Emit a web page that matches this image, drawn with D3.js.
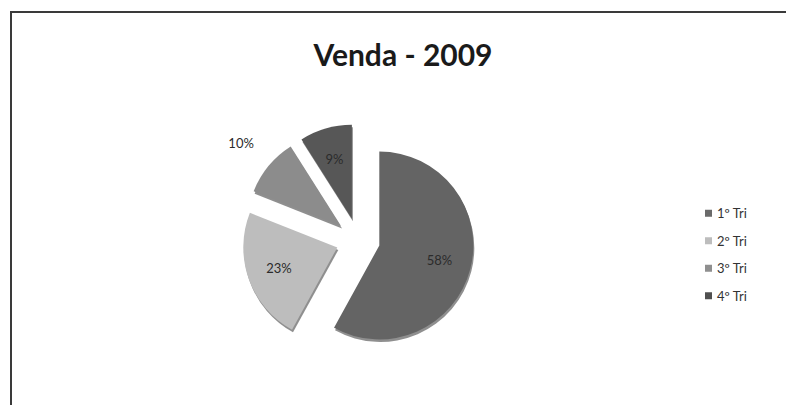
<!DOCTYPE html>
<html>
<head>
<meta charset="utf-8">
<script src="https://cdn.jsdelivr.net/npm/d3@7"></script>
<style>
  body { margin: 0; background: #fff; }
  text { font-family: Lato, "Open Sans", sans-serif; }
</style>
</head>
<body>
<div id="chart-area"></div>
<script>
/*
*    venda 2009 - exploded pie
*/

var categories = ["1º Tri", "2º Tri", "3º Tri", "4º Tri"];
var values = [58, 23, 10, 9];
var colors = ["#646464", "#bdbdbd", "#8c8c8c", "#575757"];
var legendColors = ["#6a6a6a", "#bdbdbd", "#8f8f8f", "#505050"];
var outsideLabels = ["3º Tri"];

var width = 786;
var height = 405;

var svg = d3.select("#chart-area").append("svg")
    .attr("width", width)
    .attr("height", height);

// frame (runs off right and bottom)
svg.append("rect")
    .attr("x", 11)
    .attr("y", 12)
    .attr("width", 800)
    .attr("height", 420)
    .attr("fill", "none")
    .attr("stroke", "#3a3a3a")
    .attr("stroke-width", 2);

svg.append("text")
    .attr("x", 403)
    .attr("y", 66)
    .attr("text-anchor", "middle")
    .style("font-size", "30px")
    .style("font-weight", "bold")
    .style("fill", "#1a1a1a")
    .text("Venda - 2009");

var radius = 94;
var explode = 22;

var g = svg.append("g")
    .attr("transform", "translate(358, 240)");

var pie = d3.pie().sort(null).value((d) => d.value);
var arc = d3.arc().innerRadius(0).outerRadius(radius);
var labelArc = d3.arc().innerRadius(radius * 0.66).outerRadius(radius * 0.66);
var outerArc = d3.arc().innerRadius(radius * 1.38).outerRadius(radius * 1.38);

var data = categories.map((c, i) => ({ cat: c, value: values[i], color: colors[i] }));
var arcs = pie(data);

function shift(d) {
    var a = (d.startAngle + d.endAngle) / 2;
    return [Math.sin(a) * explode, -Math.cos(a) * explode];
}

var slices = g.selectAll(".slice").data(arcs).enter().append("g")
    .attr("class", "slice")
    .attr("transform", (d) => "translate(" + shift(d) + ")");

// soft 3d edge under each slice
slices.append("path")
    .attr("d", arc)
    .attr("transform", "translate(1, 2.5)")
    .attr("fill", "#333")
    .attr("opacity", 0.55);

slices.append("path")
    .attr("d", arc)
    .attr("fill", (d) => d.data.color);

slices.append("text")
    .attr("transform", (d) => {
        var p = outsideLabels.indexOf(d.data.cat) >= 0 ? outerArc.centroid(d) : labelArc.centroid(d);
        return "translate(" + p + ")";
    })
    .attr("dy", "0.35em")
    .attr("text-anchor", "middle")
    .style("font-size", "13px")
    .style("fill", "#2b2b2b")
    .text((d) => d.data.value + "%");

// legend
var y = d3.scaleBand().domain(categories).range([200, 310]);

var legend = svg.selectAll(".legend").data(categories).enter().append("g")
    .attr("class", "legend")
    .attr("transform", (d) => "translate(705, " + (y(d) + y.bandwidth() / 2) + ")");

legend.append("rect")
    .attr("x", 0)
    .attr("y", -4)
    .attr("width", 7)
    .attr("height", 7)
    .attr("fill", (d, i) => legendColors[i]);

legend.append("text")
    .attr("x", 12)
    .attr("dy", "0.35em")
    .style("font-size", "13px")
    .style("fill", "#333")
    .text((d) => d);
</script>
</body>
</html>
